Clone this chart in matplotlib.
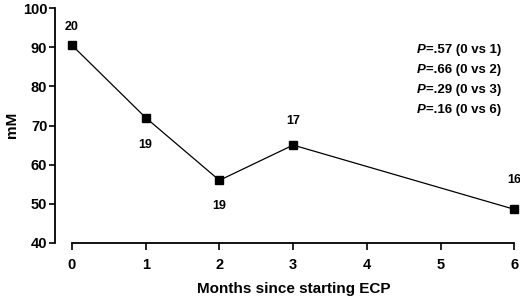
import matplotlib
matplotlib.use("Agg")
import matplotlib.pyplot as plt

months = [0, 1, 2, 3, 6]
values = [90.5, 72.0, 56.0, 65.0, 48.6]
counts = ["20", "19", "19", "17", "16"]
count_offsets_px = [18, -27, -26, 24, 29]
p_labels = ["=.57 (0 vs 1)", "=.66 (0 vs 2)", "=.29 (0 vs 3)", "=.16 (0 vs 6)"]
x_ticks = [0, 1, 2, 3, 4, 5, 6]
y_ticks = [40, 50, 60, 70, 80, 90, 100]

plt.rcParams['font.family'] = ['Liberation Sans', 'DejaVu Sans']
plt.rcParams['font.weight'] = 'bold'

W, H = 520, 299
fig = plt.figure(figsize=(W / 100, H / 100), dpi=100)
# axes box in pixels: left 55, right 518, top 8, bottom 243
ax = fig.add_axes([55 / W, (H - 243) / H, (518 - 55) / W, (243 - 8) / H])

ax.plot(months, values, color='black', linewidth=0.9, marker='s', markersize=6,
        markerfacecolor='black', markeredgecolor='black', clip_on=False, zorder=3)

ax.set_xlim(-0.23, 6.05)
ax.set_ylim(40, 100)
ax.set_xticks(x_ticks)
ax.set_yticks(y_ticks)
ax.tick_params(axis='both', labelsize=10.5, width=1.2, color='black')
ax.tick_params(axis='y', length=4, pad=1.5)
ax.tick_params(axis='x', length=5, pad=6)
for lab in ax.get_xticklabels() + ax.get_yticklabels():
    lab.set_fontweight('bold')

for s in ['top', 'right']:
    ax.spines[s].set_visible(False)
ax.spines['left'].set_linewidth(1.3)
ax.spines['bottom'].set_linewidth(1.3)
ax.spines['bottom'].set_bounds(0, 6)

for m, v, c, off in zip(months, values, counts, count_offsets_px):
    ax.annotate(c, (m, v), xytext=(0, off), textcoords='offset pixels',
                ha='center', va='center', fontsize=9, fontweight='bold')

# P-value block
p_y_px = [50, 70, 90, 110]
for lab, ypx in zip(p_labels, p_y_px):
    fy = (H - ypx) / H
    fig.text(417 / W, fy, "P", ha='left', va='center', fontsize=9.5,
             fontweight='bold', fontstyle='italic')
    fig.text(426 / W, fy, lab, ha='left', va='center', fontsize=9.5,
             fontweight='bold')

fig.text(294 / W, (H - 289) / H, "Months since starting ECP", ha='center',
         va='center', fontsize=11, fontweight='bold')
fig.text(12 / W, (H - 125) / H, "mM", ha='center', va='center', rotation=90,
         fontsize=11, fontweight='bold')

fig.savefig("out.png", dpi=100, facecolor='white')
